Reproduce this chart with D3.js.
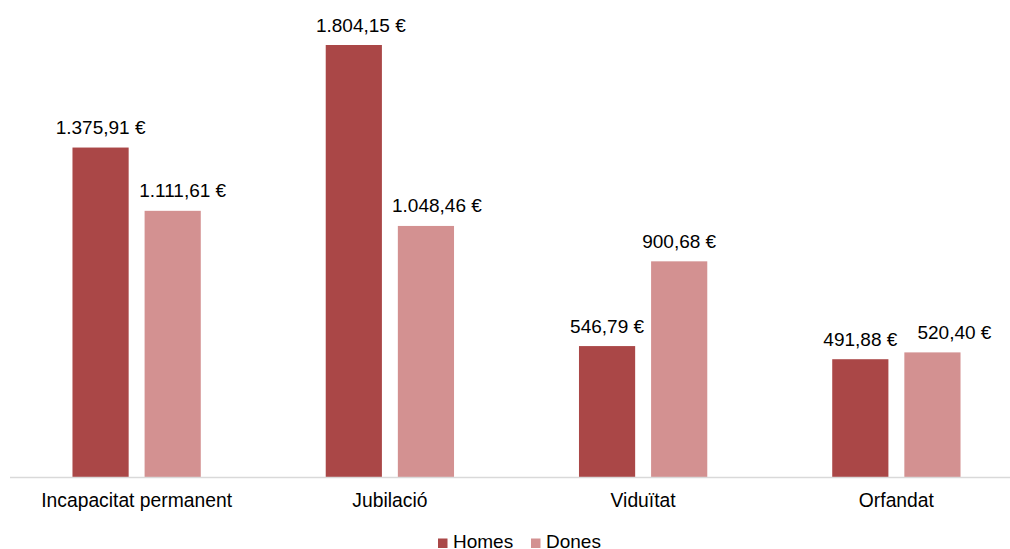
<!DOCTYPE html>
<html>
<head>
<meta charset="utf-8">
<script src="https://cdn.jsdelivr.net/npm/d3@7"></script>
<style>
  html, body { margin: 0; padding: 0; background: #fff; }
  svg { display: block; font-family: "Liberation Sans", Arial, sans-serif; }
</style>
</head>
<body>
<script>
// categories and series (pensió mitjana per sexe)
var categories = ["Incapacitat permanent", "Jubilació", "Viduïtat", "Orfandat"];
var series = ["Homes", "Dones"];
var homes = [1375.91, 1804.15, 546.79, 491.88];
var dones = [1111.61, 1048.46, 900.68, 520.40];
var colors = ["#aa4747", "#d39191"];

// labels that were nudged sideways in the original (px, [homes, dones])
var labelNudge = [[0, 10], [7, 11], [0, 0], [0, 22]];

var w = 1010, h = 549;
var baseY = 477;

var rows = categories.map(function(c, i){
    return {
        cat: c,
        values: [
            { s: series[0], v: homes[i], dx: labelNudge[i][0] },
            { s: series[1], v: dones[i], dx: labelNudge[i][1] }
        ]
    };
});

// euro format, catalan style: 1.375,91 €
var fmt = d3.formatLocale({ decimal: ",", thousands: ".", grouping: [3], currency: ["", " €"] }).format("$,.2f");

var svg = d3.select("body").append("svg")
    .attr("width", w)
    .attr("height", h);

var x0 = d3.scaleBand()
    .domain(categories)
    .range([10, 1023])
    .padding(0);

var x1 = d3.scaleBand()
    .domain(series)
    .range([0, 128.3])
    .paddingInner(0.221)
    .paddingOuter(0);

var y = d3.scaleLinear()
    .domain([0, 1804.15])
    .range([baseY, 45]);

var groups = svg.selectAll(".grp")
    .data(rows)
    .enter()
    .append("g")
    .attr("class", "grp")
    .attr("transform", function(d){
        return "translate(" + (x0(d.cat) + (x0.bandwidth() - 128.3) / 2) + ",0)";
    });

groups.selectAll("rect")
    .data(function(d){ return d.values; })
    .enter()
    .append("rect")
    .attr("x", function(d){ return x1(d.s); })
    .attr("y", function(d){ return y(d.v); })
    .attr("width", x1.bandwidth())
    .attr("height", function(d){ return baseY - y(d.v); })
    .style("fill", function(d, j){ return colors[j]; });

// value labels on top of each bar
groups.selectAll(".lbl")
    .data(function(d){ return d.values; })
    .enter()
    .append("text")
    .attr("class", "lbl")
    .attr("text-anchor", "middle")
    .attr("x", function(d){ return x1(d.s) + x1.bandwidth() / 2 + d.dx; })
    .attr("y", function(d){ return y(d.v) - 13.5; })
    .style("font-size", "19px")
    .style("fill", "#000")
    .text(function(d){ return fmt(d.v); });

// x axis line
svg.append("line")
    .attr("x1", 10).attr("x2", w)
    .attr("y1", baseY + 0.5).attr("y2", baseY + 0.5)
    .style("stroke", "#d9d9d9")
    .style("stroke-width", 1.5);

// category labels
svg.selectAll(".cat")
    .data(categories)
    .enter()
    .append("text")
    .attr("class", "cat")
    .attr("text-anchor", "middle")
    .attr("x", function(d){ return x0(d) + x0.bandwidth() / 2; })
    .attr("y", 507)
    .style("font-size", "19.3px")
    .style("fill", "#000")
    .text(function(d){ return d; });

// legend
var legendX = [438, 531];
var legend = svg.selectAll(".leg")
    .data(series)
    .enter()
    .append("g")
    .attr("class", "leg")
    .attr("transform", function(d, i){ return "translate(" + legendX[i] + ",0)"; });

legend.append("rect")
    .attr("x", 0).attr("y", 538.5)
    .attr("width", 9.5).attr("height", 9.5)
    .style("fill", function(d, i){ return colors[i]; });

legend.append("text")
    .attr("x", 15)
    .attr("y", 547.5)
    .style("font-size", "19px")
    .style("fill", "#000")
    .text(function(d){ return d; });
</script>
</body>
</html>
